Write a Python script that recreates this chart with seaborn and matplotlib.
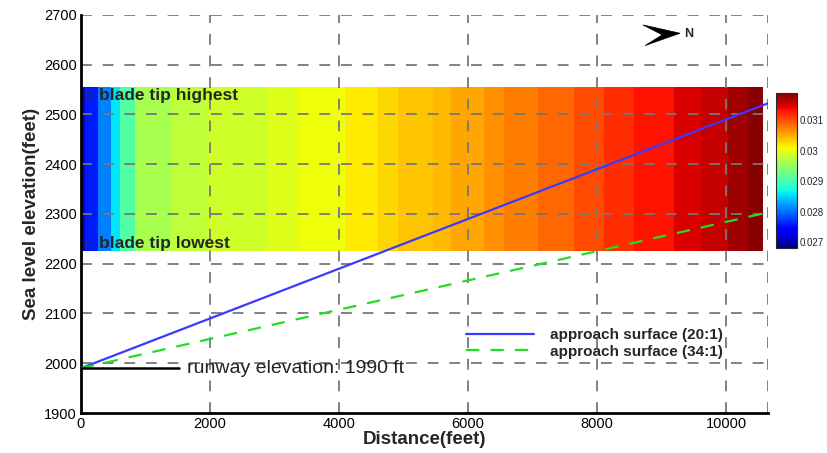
import numpy as np
import pandas as pd
import matplotlib
matplotlib.use("Agg")
import matplotlib.pyplot as plt
import seaborn as sns
from matplotlib.patches import Polygon
from matplotlib.colors import Normalize

# ---------------- data ----------------
band_edges = [0, 62, 264, 466, 606, 839, 1398, 1972, 2904, 3370, 4099, 4612, 4922,
              5450, 5730, 6242, 6553, 7081, 7640, 8106, 8571, 9193, 9612, 10031, 10342, 10575]
band_values = [0.02721, 0.02757, 0.02808, 0.02859, 0.02910, 0.02961, 0.02976, 0.02986,
               0.02996, 0.03006, 0.03018, 0.03027, 0.03037, 0.03044, 0.03054, 0.03066,
               0.03076, 0.03088, 0.03103, 0.03119, 0.03134, 0.03149, 0.03159, 0.03175, 0.03185]
blade_tip_lowest = 2225
blade_tip_highest = 2555

dist = [0, 10650]
approach_20 = [1990, 2522.5]
approach_34 = [1990, 2303.2]
runway_x = [0, 1520]
runway_y = [1990, 1990]

x_ticks = [0, 2000, 4000, 6000, 8000, 10000]
y_ticks = [1900, 2000, 2100, 2200, 2300, 2400, 2500, 2600, 2700]
cbar_ticks = [0.027, 0.028, 0.029, 0.030, 0.031]
cbar_labels = ["0.027", "0.028", "0.029", "0.03", "0.031"]

# ---------------- style ----------------
sns.set_style("white")
plt.rcParams['font.family'] = ['Liberation Sans', 'DejaVu Sans']

fig = plt.figure(figsize=(8.28, 4.53), dpi=100)
ax = fig.add_axes([0.0978, 0.0883, 0.8297, 0.8787])

norm = Normalize(vmin=0.0268, vmax=0.0319)
cmap = plt.get_cmap("jet")
X = np.array(band_edges)
Y = np.array([blade_tip_lowest, blade_tip_highest])
C = np.array(band_values)[None, :]
mesh = ax.pcolormesh(X, Y, C, cmap=cmap, norm=norm, shading="flat", zorder=1)

# grid (on top of colour band)
ax.set_xlim(0, 10650)
ax.set_ylim(1900, 2700)
grid_kw = dict(color="#777777", linestyle=(0, (6, 6)), linewidth=1.3, zorder=2)
for xv in x_ticks[1:]:
    ax.axvline(xv, **grid_kw)
for yv in y_ticks[1:]:
    ax.axhline(yv, **grid_kw)
ax.axvline(10650, **grid_kw)

df20 = pd.DataFrame({"x": dist, "y": approach_20})
df34 = pd.DataFrame({"x": dist, "y": approach_34})
sns.lineplot(data=df20, x="x", y="y", ax=ax, color="#3a3aff", linewidth=1.6,
             label="approach surface (20:1)", zorder=4)
sns.lineplot(data=df34, x="x", y="y", ax=ax, color="#22dd22", linewidth=1.6,
             linestyle=(0, (6, 5)), label="approach surface (34:1)", zorder=4)
ax.plot(runway_x, runway_y, color="black", linewidth=1.8, zorder=4)

ax.text(1645, 1990, "runway elevation: 1990 ft", fontsize=14, va="center", ha="left",
        color="#222222", zorder=5)
ax.text(280, 2539, "blade tip highest", fontsize=12.5, fontweight="bold", va="center", zorder=5)
ax.text(280, 2240, "blade tip lowest", fontsize=12.5, fontweight="bold", va="center", zorder=5)
for yy in (2539, 2240):
    ax.plot([109], [yy], marker="o", markersize=5, markerfacecolor="none",
            markeredgecolor="#333333", markeredgewidth=0.8, zorder=5)

ax.set_xticks(x_ticks)
ax.set_yticks(y_ticks)
ax.set_xticks(np.arange(0, 10651, 500), minor=True)
ax.set_yticks(np.arange(1900, 2701, 20), minor=True)
ax.tick_params(axis="both", which="major", direction="in", length=6, width=1.5,
               labelsize=10.5, colors="black", pad=3)
ax.tick_params(axis="both", which="minor", direction="in", length=3, width=1.0)
ax.tick_params(top=False, right=False, which="both")
for s in ("top", "right"):
    ax.spines[s].set_visible(False)
for s in ("left", "bottom"):
    ax.spines[s].set_linewidth(2)
    ax.spines[s].set_color("black")

ax.set_xlabel("Distance(feet)", fontsize=13.5, fontweight="bold", labelpad=0)
ax.set_ylabel("Sea level elevation(feet)", fontsize=13.5, fontweight="bold", labelpad=3)

leg = ax.legend(loc="upper left", bbox_to_anchor=(0.551, 0.228), frameon=False,
                prop={"size": 11, "weight": "bold"}, handlelength=4.5,
                labelspacing=0.15, handletextpad=1.0, borderaxespad=0)

# north arrow
arrow_pts = [(0.818, 0.975), (0.872, 0.954), (0.821, 0.923), (0.846, 0.950)]
ax.add_patch(Polygon(arrow_pts, closed=True, transform=ax.transAxes, facecolor="black",
                     edgecolor="black", linewidth=0.5, clip_on=False, zorder=6))
ax.text(0.878, 0.952, "N", transform=ax.transAxes, fontsize=9, fontweight="bold",
        va="center", ha="left", zorder=6)

# colorbar
cax = fig.add_axes([0.937, 0.4525, 0.0254, 0.342])
cb = fig.colorbar(mesh, cax=cax, ticks=cbar_ticks)
cb.ax.set_yticklabels(cbar_labels)
cb.ax.tick_params(labelsize=7, length=2, direction="in", pad=2)
cb.outline.set_linewidth(0.8)

fig.savefig("out.png", dpi=100)
